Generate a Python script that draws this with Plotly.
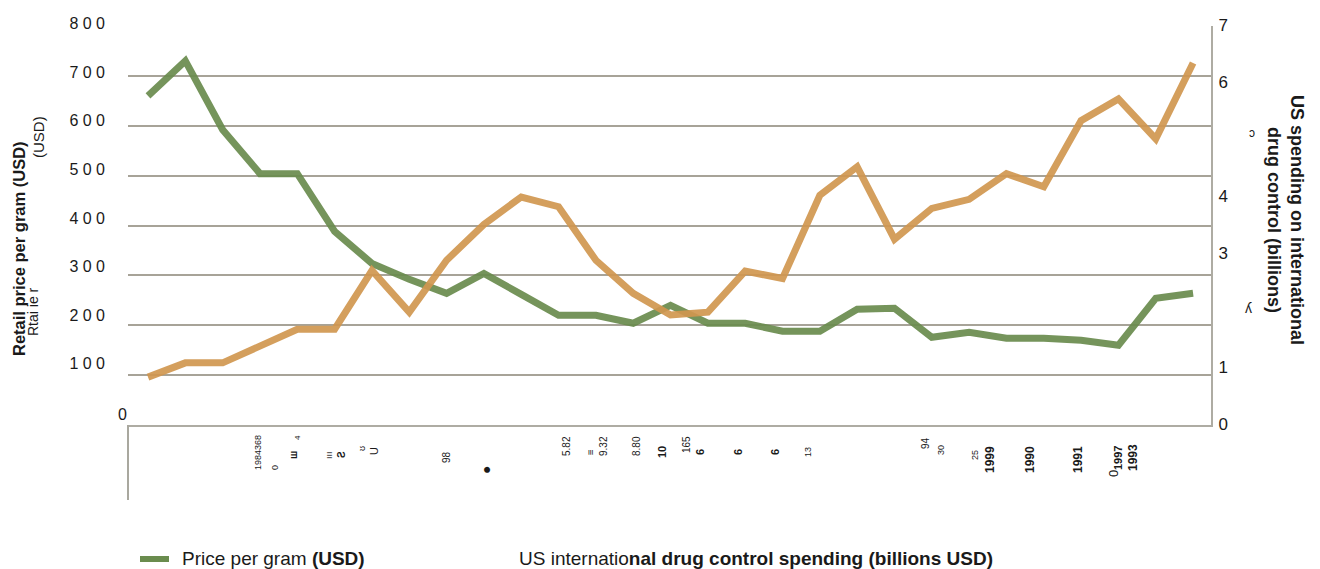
import plotly.graph_objects as go

# ---- data -------------------------------------------------------------
years = list(range(1980, 2009))
price_per_gram = [660, 730, 592, 504, 504, 388, 324, 292, 264, 304,
                  262, 220, 220, 204, 240, 204, 204, 188, 188, 232,
                  234, 176, 186, 174, 174, 170, 160, 254, 264]
spending_billions = [0.84, 1.09, 1.09, 1.38, 1.68, 1.68, 2.71, 1.98, 2.89, 3.52,
                     4.00, 3.83, 2.89, 2.31, 1.93, 1.98, 2.70, 2.57, 4.03, 4.53,
                     3.26, 3.80, 3.96, 4.41, 4.18, 5.34, 5.72, 5.02, 6.35]

left_ticks = [100, 200, 300, 400, 500, 600, 700, 800]
left_ticktext = ["1 0 0", "2 0 0", "3 0 0", "4 0 0", "5 0 0", "6 0 0", "7 0 0", "8 0 0"]
right_ticks = [0, 1, 3, 4, 6, 7]

# small rotated labels printed under the axis: (text, x px, y px, size, bold)
axis_marks = [
    ("1984368", 258, 453, 9, False), ("0", 275, 468, 9, False), ("4", 297, 438, 8, False),
    ("ш", 293, 455, 10, True), ("ııı", 329, 455, 9, False), ("Ƨ", 341, 455, 10, True),
    ("ʊ", 362, 449, 9, False), ("U", 374, 451, 11, False), ("98", 446, 457, 10, False),
    ("●", 486, 470, 14, True), ("5.82", 566, 446, 10, False), ("≡", 590, 452, 10, True),
    ("9.32", 603, 446, 10, False), ("8.80", 636, 446, 10, False), ("10", 662, 452, 11, True),
    ("165", 686, 445, 10, False), ("6", 700, 452, 11, True), ("6", 738, 452, 11, True),
    ("6", 775, 452, 11, True), ("13", 808, 452, 9, False), ("94", 926, 443, 10, False),
    ("30", 941, 450, 9, False), ("25", 975, 455, 9, False), ("1999", 990, 460, 12, True),
    ("1990", 1030, 460, 12, True), ("1991", 1078, 460, 12, True), ("0", 1113, 474, 13, False),
    ("1997", 1118, 458, 11, True), ("1993", 1133, 458, 12, True),
]

GREEN = "rgb(106,140,78)"
ORANGE = "rgb(209,151,80)"
GRID = "#a7a398"
FONT = "Liberation Sans, Arial, sans-serif"

W, H = 1320, 569
L, R, T, B = 128, 109, 26, 144


def paper(x, y):
    """pixel position -> paper coordinates"""
    return (x - L) / (W - L - R), (H - B - y) / (H - T - B)


fig = go.Figure()
fig.add_trace(go.Scatter(
    x=years, y=price_per_gram, mode="lines", name="Price per gram (USD)",
    line=dict(color=GREEN, width=7), opacity=0.92, yaxis="y",
))
fig.add_trace(go.Scatter(
    x=years, y=spending_billions, mode="lines",
    name="US international drug control spending (billions USD)",
    line=dict(color=ORANGE, width=7), opacity=0.92, yaxis="y2",
))
# carries the price series onto the label axis so that axis gets drawn
fig.add_trace(go.Scatter(
    x=years, y=price_per_gram, mode="none", yaxis="y3",
    hoverinfo="skip", showlegend=False,
))

annotations = []


def note(text, x, y, size=16, bold=False, angle=0, xanchor="center", yanchor="middle", color="#1a1a1a"):
    px_, py_ = paper(x, y)
    annotations.append(dict(
        text=f"<b>{text}</b>" if bold else text, x=px_, y=py_, xref="paper", yref="paper",
        showarrow=False, textangle=angle, xanchor=xanchor, yanchor=yanchor,
        font=dict(family=FONT, size=size, color=color),
    ))


# left axis zero label and titles
note("0", 122, 414, size=16)
note("Retail price per gram (USD)", 19, 249, size=16.5, bold=True, angle=-90)
note("Rtai ie r", 33, 312, size=14, angle=-90)
note("(USD)", 38, 137, size=15, angle=-90)
note("US spending on international<br>drug control (billions)", 1286, 220, size=18, bold=True, angle=90)
note("ɔ", 1252, 133, size=12)
note("ʎ", 1248, 308, size=14)

for text, x, y, size, bold in axis_marks:
    note(text, x, y, size=size, bold=bold, angle=-90)

# legend
note("Price per gram <b>(USD)</b>", 180, 558, size=19, xanchor="left")
note("US internatio<b>nal drug control spending (billions USD)</b>", 517, 558, size=19, xanchor="left")

sx0, sy0 = paper(140, 559)
sx1, _ = paper(169, 559)
vx, vy0 = paper(128, 425)
_, vy1 = paper(128, 500)
shapes = [
    dict(type="line", xref="paper", yref="paper", x0=sx0, x1=sx1, y0=sy0, y1=sy0,
         line=dict(color=GREEN, width=6)),
    dict(type="line", xref="paper", yref="paper", x0=vx, x1=vx, y0=vy0, y1=vy1,
         line=dict(color="#a9a89f", width=2)),
]

fig.update_layout(
    width=W, height=H,
    margin=dict(l=L, r=R, t=T, b=B, pad=0),
    paper_bgcolor="white", plot_bgcolor="white",
    showlegend=False,
    font=dict(family=FONT, color="#1a1a1a"),
    xaxis=dict(
        range=[1979.464, 2008.48], showticklabels=False, ticks="", showgrid=False,
        zeroline=False, showline=True, linecolor="#aeaca3", linewidth=2,
    ),
    # grid lines of the price axis
    yaxis=dict(
        range=[0, 800], tickvals=left_ticks, showticklabels=False,
        showgrid=True, gridcolor=GRID, gridwidth=2, zeroline=False,
        showline=False, ticks="",
    ),
    # price labels, drawn on a slightly tighter scale than the grid
    yaxis3=dict(
        range=[-20, 801.5], overlaying="y", anchor="x", side="left", tickvals=left_ticks,
        ticktext=left_ticktext, showgrid=False, zeroline=False, showline=False,
        ticks="", tickfont=dict(size=16, color="#1a1a1a"), showticklabels=True,
        ticklabelstandoff=22, ticklabelshift=-3,
    ),
    yaxis2=dict(
        range=[0, 7], overlaying="y", side="right", tickvals=right_ticks,
        showgrid=False, zeroline=False, showline=True, linecolor="#aeaca3",
        linewidth=2, ticks="", tickfont=dict(size=17, color="#1a1a1a"),
        ticklabelstandoff=2, ticklabelshift=-1,
    ),
    annotations=annotations,
    shapes=shapes,
)

fig.write_html("out.html")
